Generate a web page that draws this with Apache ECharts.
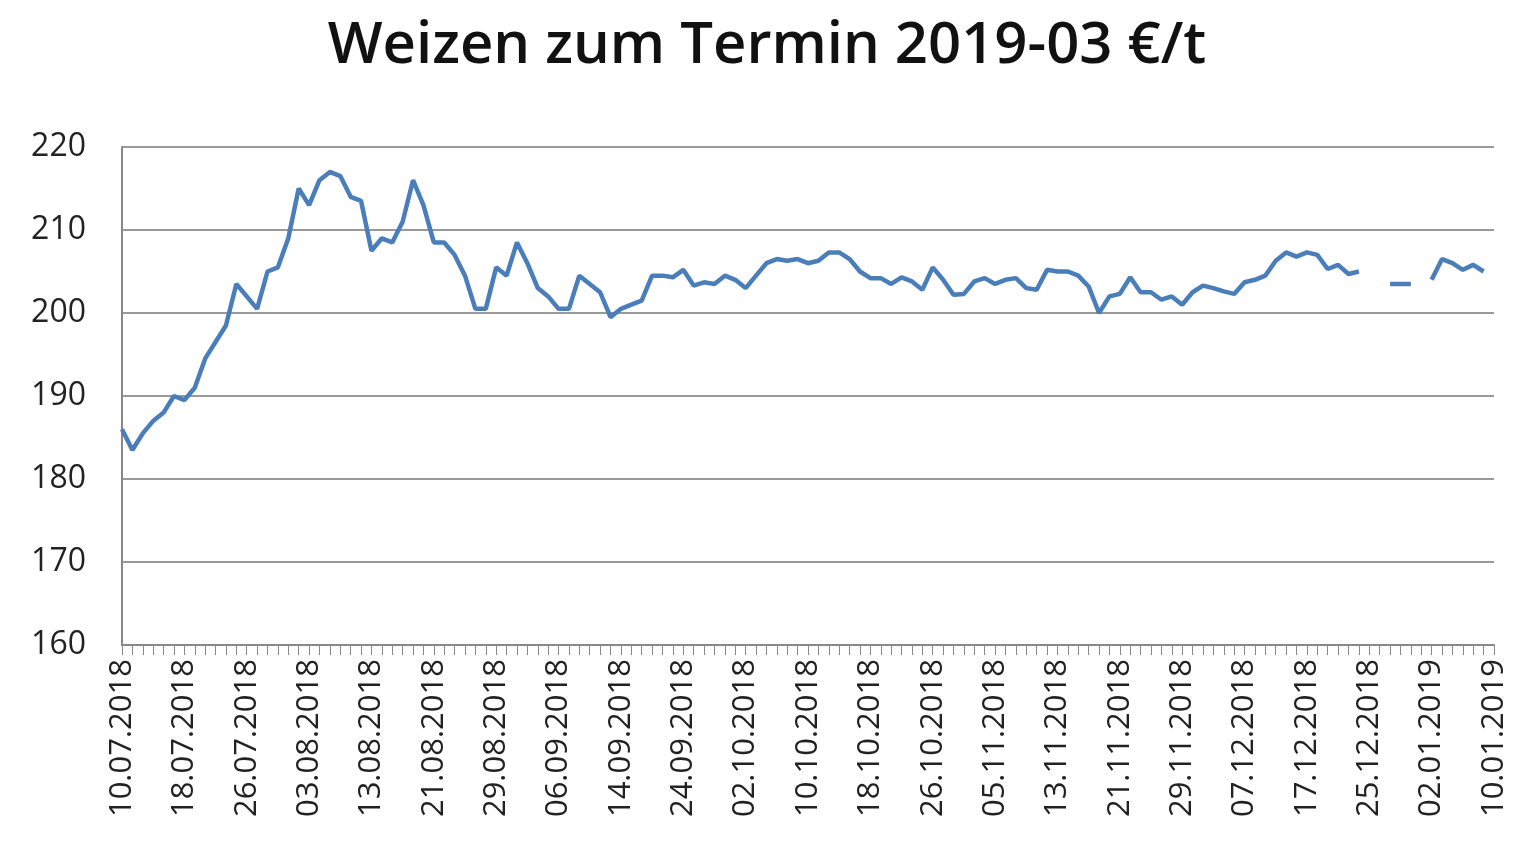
<!DOCTYPE html>
<html><head><meta charset="utf-8">
<script src="https://cdn.jsdelivr.net/npm/echarts@6/dist/echarts.min.js"></script>
<style>html,body{margin:0;padding:0;background:#fff}#c{width:1534px;height:862px}</style>
</head><body><div id="c"></div>
<script>
// trading-day categories (weekdays 10.07.2018 – 10.01.2019)
const startDate = '2018-07-10', endDate = '2019-01-10';
const categories = [];
for (let d = new Date(startDate + 'T12:00:00Z'); d <= new Date(endDate + 'T12:00:00Z'); d.setUTCDate(d.getUTCDate() + 1)) {
  const wd = d.getUTCDay();
  if (wd === 0 || wd === 6) continue;
  const p = n => String(n).padStart(2, '0');
  categories.push(p(d.getUTCDate()) + '.' + p(d.getUTCMonth() + 1) + '.' + d.getUTCFullYear());
}
const prices = [
186,183.5,185.5,187,188,190,189.5,191,194.5,196.5,
198.5,203.5,202,200.5,205,205.5,209,215,213,216,
217,216.5,214,213.5,207.5,209,208.5,211,216,213,
208.5,208.5,207,204.5,200.5,200.5,205.5,204.5,208.5,206,
203,202,200.5,200.5,204.5,203.5,202.5,199.5,200.5,201,
201.5,204.5,204.5,204.3,205.2,203.3,203.7,203.5,204.5,204,
203,204.5,206,206.5,206.3,206.5,206,206.3,207.3,207.3,
206.5,205,204.2,204.2,203.5,204.3,203.8,202.8,205.5,204,
202.2,202.3,203.8,204.2,203.5,204,204.2,203,202.8,205.2,
205,205,204.5,203.2,200,202,202.3,204.3,202.5,202.5,
201.6,202,201,202.5,203.3,203,202.6,202.3,203.7,204,
204.5,206.3,207.3,206.8,207.3,207,205.3,205.8,204.7,205,
null,null,203.5,203.5,203.5,null,204,206.5,206,205.2,
205.8,205,null
];
const yTicks = [160,170,180,190,200,210,220];
const chart = echarts.init(document.getElementById('c'));
chart.setOption({
  animation:false,
  title:{text:'Weizen zum Termin 2019-03 €/t',left:'center',top:12,
    textStyle:{fontFamily:'Open Sans',fontWeight:600,fontSize:58,color:'#111'}},
  grid:{left:122,right:40,top:147,bottom:217},
  xAxis:{type:'category',data:categories,boundaryGap:false,
    axisLine:{lineStyle:{color:'#888',width:2}},
    axisTick:{interval:0,length:10,lineStyle:{color:'#888'}},
    axisLabel:{interval:5,rotate:90,fontFamily:'Open Sans',fontSize:31,color:'#222',margin:14}},
  yAxis:{type:'value',min:yTicks[0],max:yTicks[yTicks.length-1],interval:10,
    axisLine:{show:true,lineStyle:{color:'#888',width:2}},
    axisTick:{show:false},
    splitLine:{lineStyle:{color:'#999',width:2}},
    axisLabel:{fontFamily:'Open Sans',fontSize:32,color:'#222',margin:36}},
  series:[{type:'line',data:prices,symbol:'none',connectNulls:false,
    lineStyle:{color:'#4a7ebb',width:4.5}}]
});
</script></body></html>
